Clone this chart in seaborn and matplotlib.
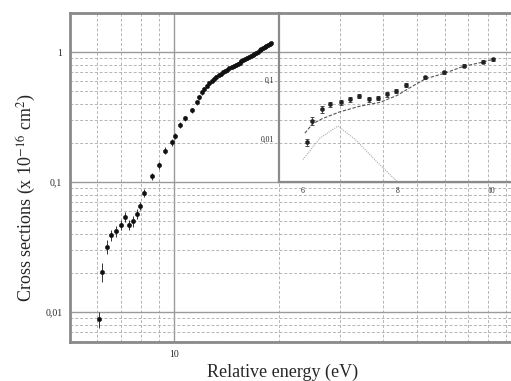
import numpy as np
import pandas as pd
import seaborn as sns
from matplotlib import pyplot as plt
from matplotlib.ticker import LogLocator, FixedLocator, NullFormatter, FuncFormatter

# measured cross sections (x 1e-16 cm^2) vs relative energy (eV)
energy = [6.08, 6.20, 6.41, 6.58, 6.80, 7.00, 7.18, 7.40, 7.60, 7.78, 7.98, 8.19,
          8.60, 9.00, 9.41, 9.82, 10.03, 10.40, 10.70, 11.20, 11.60, 11.80,
          12.0, 12.2, 12.4, 12.6, 12.8, 13.0, 13.2, 13.4, 13.6, 13.8, 14.0,
          14.2, 14.4, 14.6, 14.8, 15.0, 15.2, 15.4, 15.6, 15.8, 16.0, 16.2,
          16.4, 16.6, 16.8, 17.0, 17.2, 17.4, 17.6, 17.8, 18.0, 18.2, 18.4,
          18.6, 18.8, 19.0]
sigma = [0.0088, 0.0205, 0.032, 0.039, 0.042, 0.047, 0.054, 0.047, 0.050, 0.057, 0.066, 0.083,
         0.111, 0.135, 0.175, 0.203, 0.225, 0.274, 0.31, 0.357, 0.41, 0.45,
         0.49, 0.52, 0.55, 0.575, 0.60, 0.62, 0.645, 0.665, 0.68, 0.70, 0.72,
         0.735, 0.75, 0.765, 0.78, 0.80, 0.815, 0.83, 0.85, 0.865, 0.88, 0.90,
         0.92, 0.935, 0.955, 0.975, 0.99, 1.01, 1.03, 1.05, 1.07, 1.09, 1.11,
         1.13, 1.15, 1.17]
sigma_err = [0.0012, 0.0035, 0.004, 0.004, 0.004, 0.0045, 0.005, 0.0045, 0.0045, 0.005, 0.005, 0.006,
             0.007, 0.008, 0.01, 0.012, 0.012, 0.014, 0.015, 0.016, 0.018, 0.02,
             0.02, 0.02, 0.02, 0.02, 0.02, 0.02, 0.02, 0.02, 0.02, 0.02, 0.02,
             0.02, 0.02, 0.02, 0.02, 0.02, 0.02, 0.02, 0.02, 0.02, 0.02, 0.02,
             0.02, 0.02, 0.02, 0.02, 0.02, 0.02, 0.02, 0.02, 0.02, 0.02, 0.02,
             0.02, 0.02, 0.02]

# inset curves
fit_e = [6.04, 6.2, 6.4, 6.77, 7.2, 7.64, 8.0, 8.28, 8.6, 9.0, 9.4, 9.8, 10.0]
fit_s = [0.0126, 0.018, 0.022, 0.0287, 0.036, 0.042, 0.055, 0.075, 0.105, 0.13, 0.17, 0.20, 0.22]
part_e = [6.0, 6.36, 6.74, 7.1, 7.57, 8.0]
part_s = [0.0045, 0.0104, 0.0166, 0.010, 0.0041, 0.0019]

df = pd.DataFrame({'energy': energy, 'sigma': sigma, 'err': sigma_err})
df_in = df[df.energy <= 10.1]

sns.set_style('white')
plt.rcParams['font.family'] = ['Liberation Serif', 'DejaVu Serif']
plt.rcParams['mathtext.fontset'] = 'stix'

W, H = 511, 381
fig = plt.figure(figsize=(W / 100, H / 100), dpi=100)


def px_axes(left, top, right, bottom):
    return fig.add_axes([left / W, 1 - bottom / H, (right - left) / W, (bottom - top) / H])


frame_col = '#8a8a8a'
major_col = '#9a9a9a'
minor_col = '#b5b5b5'

ax = px_axes(70, 13, 521.5, 342)
ax.set_xscale('log')
ax.set_yscale('log')
ax.set_xlim(5, 100)
ax.set_ylim(0.0059, 2.0)
ax.xaxis.set_major_locator(FixedLocator([10]))
ax.xaxis.set_minor_locator(LogLocator(base=10, subs=np.arange(2, 10)))
ax.xaxis.set_minor_formatter(NullFormatter())
ax.xaxis.set_major_formatter(FuncFormatter(lambda v, p: '%d' % v))
ax.yaxis.set_major_locator(FixedLocator([0.01, 0.1, 1]))
ax.yaxis.set_minor_locator(LogLocator(base=10, subs=np.arange(2, 10)))
ax.yaxis.set_minor_formatter(NullFormatter())
ax.yaxis.set_major_formatter(FuncFormatter(lambda v, p: {0.01: '0,01', 0.1: '0,1', 1: '1'}.get(round(v, 3), '')))
ax.grid(True, which='major', color=major_col, lw=1.0, ls='-')
ax.grid(True, which='minor', color=minor_col, lw=0.7, ls=(0, (3, 2)))
for s in ax.spines.values():
    s.set_color(frame_col)
    s.set_linewidth(2.0)
ax.tick_params(axis='both', which='major', direction='inout', length=5, width=1, color=frame_col,
               labelsize=7, pad=3)
ax.tick_params(axis='both', which='minor', direction='in', length=3, width=0.7, color=frame_col)

ax.errorbar(df.energy, df.sigma, yerr=df.err, fmt='none', ecolor='#333333', elinewidth=0.7, capsize=0)
sns.scatterplot(data=df, x='energy', y='sigma', ax=ax, color='#111111', s=10,
                edgecolor='#111111', linewidth=0.3, legend=False, zorder=3)
ax.set_xlabel('Relative energy (eV)', fontsize=13)
ax.set_ylabel(r'Cross sections (x 10$^{-16}$ cm$^{2}$)', fontsize=13)
ax.xaxis.set_label_coords((283 - 70) / 451.5, -(372 - 342) / 329, transform=ax.transAxes)
ax.yaxis.set_label_coords(-(70 - 26) / 451.5, (342 - 198) / 329, transform=ax.transAxes)
ax.xaxis.label.set_va('center')
ax.yaxis.label.set_va('center')

# inset: low-energy region, linear energy axis
ins = px_axes(279, 13, 521.5, 182)
ins.patch.set_alpha(0)
ins.set_yscale('log')
ins.set_xlim(5.49, 10.64)
ins.set_ylim(0.00187, 1.37)
ins.set_xticks([6, 8, 10])
ins.xaxis.set_minor_locator(FixedLocator([7, 9]))
ins.yaxis.set_major_locator(FixedLocator([0.01, 0.1]))
ins.yaxis.set_minor_locator(LogLocator(base=10, subs=np.arange(2, 10)))
ins.yaxis.set_minor_formatter(NullFormatter())
ins.yaxis.set_major_formatter(FuncFormatter(lambda v, p: {0.01: '0,01', 0.1: '0,1'}.get(round(v, 3), '')))
ins.grid(False)
for k in ['top', 'right']:
    ins.spines[k].set_visible(False)
for k in ['left', 'bottom']:
    ins.spines[k].set_color(frame_col)
    ins.spines[k].set_linewidth(1.6)
ins.tick_params(axis='both', which='major', direction='inout', length=4, width=0.8, color=frame_col,
                labelsize=5.5, pad=1.5)
ins.tick_params(axis='both', which='minor', direction='in', length=2, width=0.6, color=frame_col)

sns.lineplot(x=fit_e, y=fit_s, ax=ins, color='#555555', lw=0.8, ls=(0, (3, 1.5)))
sns.lineplot(x=part_e, y=part_s, ax=ins, color='#aaaaaa', lw=0.8, ls=(0, (1, 1)))
ins.errorbar(df_in.energy, df_in.sigma, yerr=df_in.err, fmt='none', ecolor='#333333',
             elinewidth=0.6, capsize=1.2, capthick=0.6)
sns.scatterplot(data=df_in, x='energy', y='sigma', ax=ins, color='#222222', s=9,
                edgecolor='#222222', linewidth=0.3, legend=False, zorder=3)
ins.set_xlabel('')
ins.set_ylabel('')

fig.savefig('out.png', dpi=100)
